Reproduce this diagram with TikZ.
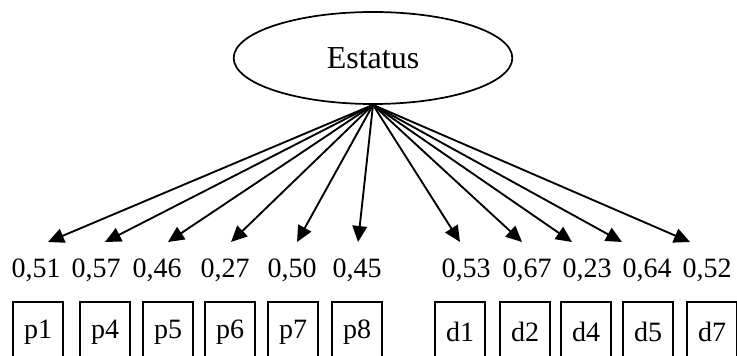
\documentclass[tikz,border=0pt]{standalone}
\usepackage{fontspec}
\setmainfont{Liberation Serif}
\usetikzlibrary{arrows.meta,shapes.geometric}
\tikzset{
  latent/.style={ellipse,draw,line width=1.3pt,minimum width=209pt,minimum height=69pt,font=\fontsize{24}{28}\selectfont},
  indic/.style={draw,line width=0.9pt,minimum width=37.5pt,minimum height=45pt,inner sep=0pt,font=\fontsize{21}{24}\selectfont},
  loadlbl/.style={inner sep=0pt,font=\fontsize{21}{24}\selectfont},
  loadarrow/.style={line width=1.4pt,-{Triangle[length=12pt,width=11pt]}}
}
\begin{document}
\begin{tikzpicture}[x=0.75pt,y=-0.75pt]
				\useasboundingbox (0,0) rectangle (737,356);
				% latent factor
				\node[latent] (est) at (373,58) {Estatus};
				% indicators, loadings and arrows
				\foreach \nm/\tip/\lx/\val/\bx in {p1/48/36/0{,}51/38, p4/105/96/0{,}57/105, p5/168/157/0{,}46/168, p6/231/225/0{,}27/230, p7/297/292/0{,}50/293, p8/358/357/0{,}45/357,
						d1/460/466/0{,}53/460, d2/522/527/0{,}67/525, d4/572/587/0{,}23/586, d5/622/647/0{,}64/648, d7/690/707/0{,}52/712}{
					\coordinate (t\nm) at (\tip,242);
					\node[loadlbl] (l\nm) at (\lx,270) {\val};
					\node[indic] (\nm) at (\bx,332) {\nm};
					\draw[loadarrow] (est.south) -- (t\nm);
				}
\end{tikzpicture}
\end{document}
